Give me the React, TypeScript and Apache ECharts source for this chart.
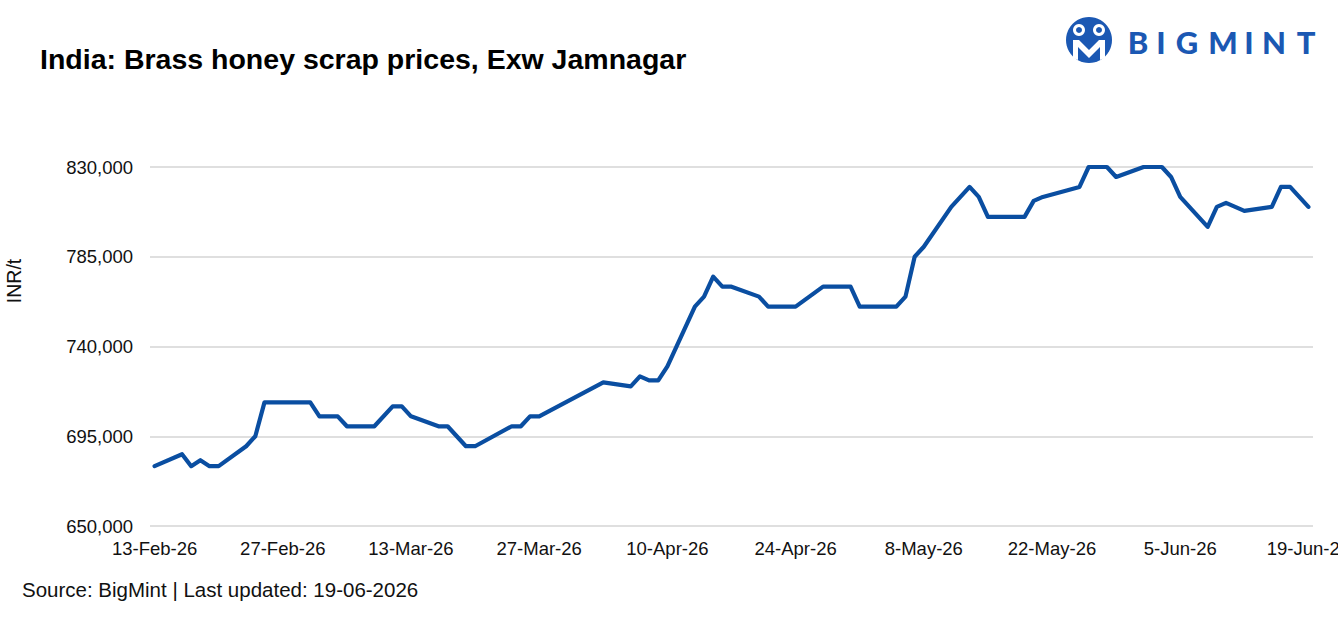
import React, { useEffect, useRef } from "react";
import * as echarts from "echarts";

const startDate = "2026-02-13";
const endDate = "2026-06-19";

const dates = [
  "2026-02-13", "2026-02-16", "2026-02-17", "2026-02-18", "2026-02-19", "2026-02-20",
  "2026-02-23", "2026-02-24", "2026-02-25", "2026-03-02", "2026-03-03", "2026-03-05",
  "2026-03-06", "2026-03-09", "2026-03-11", "2026-03-12", "2026-03-13", "2026-03-16",
  "2026-03-17", "2026-03-19", "2026-03-20", "2026-03-24", "2026-03-25", "2026-03-26",
  "2026-03-27", "2026-04-03", "2026-04-06", "2026-04-07", "2026-04-08", "2026-04-09",
  "2026-04-10", "2026-04-13", "2026-04-14", "2026-04-15", "2026-04-16", "2026-04-17",
  "2026-04-20", "2026-04-21", "2026-04-24", "2026-04-27", "2026-04-30", "2026-05-01",
  "2026-05-05", "2026-05-06", "2026-05-07", "2026-05-08", "2026-05-11", "2026-05-13",
  "2026-05-14", "2026-05-15", "2026-05-19", "2026-05-20", "2026-05-21", "2026-05-25",
  "2026-05-26", "2026-05-28", "2026-05-29", "2026-06-01", "2026-06-03", "2026-06-04",
  "2026-06-05", "2026-06-08", "2026-06-09", "2026-06-10", "2026-06-12", "2026-06-15",
  "2026-06-16", "2026-06-17", "2026-06-19",
];

const prices = [
  680000, 686000, 680000, 683000, 680000, 680000,
  690000, 695000, 712000, 712000, 705000, 705000,
  700000, 700000, 710000, 710000, 705000, 700000,
  700000, 690000, 690000, 700000, 700000, 705000,
  705000, 722000, 720000, 725000, 723000, 723000,
  730000, 760000, 765000, 775000, 770000, 770000,
  765000, 760000, 760000, 770000, 770000, 760000,
  760000, 765000, 785000, 790000, 810000, 820000,
  815000, 805000, 805000, 813000, 815000, 820000,
  830000, 830000, 825000, 830000, 830000, 825000,
  815000, 800000, 810000, 812000, 808000, 810000,
  820000, 820000, 810000,
];

const xTickDates = [
  "2026-02-13", "2026-02-27", "2026-03-13", "2026-03-27", "2026-04-10",
  "2026-04-24", "2026-05-08", "2026-05-22", "2026-06-05", "2026-06-19",
];

const yTicks = [650000, 695000, 740000, 785000, 830000];

const MONTHS = ["Jan", "Feb", "Mar", "Apr", "May", "Jun", "Jul", "Aug", "Sep", "Oct", "Nov", "Dec"];
const DAY = 86400000;
const t0 = Date.parse(startDate + "T00:00:00Z");
const dayIndex = (d: string) => Math.round((Date.parse(d + "T00:00:00Z") - t0) / DAY);
const fmtDate = (idx: number) => {
  const d = new Date(t0 + idx * DAY);
  const yy = String(d.getUTCFullYear()).slice(2);
  return `${d.getUTCDate()}-${MONTHS[d.getUTCMonth()]}-${yy}`;
};

const FONT = "'Liberation Sans', Arial, sans-serif";
const LOGO_BLUE = "#1b58b3";

export default function App() {
  const ref = useRef<HTMLDivElement>(null);

  useEffect(() => {
    if (!ref.current) return;
    const chart = echarts.init(ref.current, null, { renderer: "svg" });
    const seriesData = dates.map((d, i) => [dayIndex(d), prices[i]]);
    const letters = [
      ["B", 1138], ["I", 1161], ["G", 1187], ["M", 1223], ["I", 1249], ["N", 1274], ["T", 1306],
    ] as [string, number][];
    const cx = 1089;
    const cy = 40;

    chart.setOption({
      animation: false,
      backgroundColor: "#ffffff",
      grid: {
        left: 150,
        right: 25,
        top: 167,
        bottom: 101,
        containLabel: false,
        outerBoundsMode: "none",
      },
      xAxis: {
        type: "value",
        min: -0.5,
        max: dayIndex(endDate) + 0.5,
        axisLine: { show: false },
        axisTick: { show: false, customValues: xTickDates.map(dayIndex) },
        splitLine: { show: false },
        axisLabel: {
          customValues: xTickDates.map(dayIndex),
          formatter: (v: number) => fmtDate(Math.round(v)),
          color: "#111111",
          fontSize: 18.5,
          fontFamily: FONT,
          margin: 13,
          showMinLabel: true,
          showMaxLabel: true,
          hideOverlap: false,
        },
      },
      yAxis: {
        type: "value",
        min: yTicks[0],
        max: yTicks[yTicks.length - 1],
        axisLine: { show: false },
        axisTick: { show: false, customValues: yTicks },
        splitLine: { show: true, lineStyle: { color: "#d4d4d4", width: 1.5 } },
        axisLabel: {
          customValues: yTicks,
          formatter: (v: number) => v.toLocaleString("en-US"),
          color: "#111111",
          fontSize: 18.5,
          fontFamily: FONT,
          margin: 17,
        },
      },
      series: [
        {
          type: "line",
          data: seriesData,
          showSymbol: false,
          symbol: "none",
          clip: false,
          lineStyle: { color: "#0a4ea1", width: 4.2, join: "round", cap: "round" },
        },
      ],
      graphic: [
        {
          type: "text",
          left: 40,
          top: 44,
          style: {
            text: "India: Brass honey scrap prices, Exw Jamnagar",
            fontSize: 28.5,
            fontWeight: "bold",
            fontFamily: FONT,
            fill: "#000000",
          },
        },
        {
          type: "text",
          left: 22,
          top: 579,
          style: {
            text: "Source: BigMint | Last updated: 19-06-2026",
            fontSize: 20.5,
            fontFamily: FONT,
            fill: "#111111",
          },
        },
        {
          type: "text",
          x: 14,
          y: 281,
          rotation: Math.PI / 2,
          style: {
            text: "INR/t",
            fontSize: 19.5,
            fontFamily: FONT,
            fill: "#111111",
            align: "center",
            verticalAlign: "middle",
          },
        },
        { type: "circle", shape: { cx, cy, r: 23 }, style: { fill: LOGO_BLUE } },
        { type: "circle", shape: { cx: cx - 10, cy: cy - 10, r: 6 }, style: { fill: "#ffffff" } },
        { type: "circle", shape: { cx: cx + 10, cy: cy - 10, r: 6 }, style: { fill: "#ffffff" } },
        { type: "circle", shape: { cx: cx - 10, cy: cy - 10, r: 3 }, style: { fill: LOGO_BLUE } },
        { type: "circle", shape: { cx: cx + 10, cy: cy - 10, r: 3 }, style: { fill: LOGO_BLUE } },
        {
          type: "polygon",
          shape: {
            points: [
              [cx - 16, cy], [cx - 10, cy], [cx, cy + 10], [cx + 10, cy], [cx + 16, cy], [cx + 16, cy + 18],
              [cx + 11, cy + 20], [cx + 11, cy + 7], [cx, cy + 18], [cx - 11, cy + 7], [cx - 11, cy + 20], [cx - 16, cy + 18],
            ],
          },
          style: { fill: "#ffffff" },
        },
        ...letters.map(([ch, x]) => ({
          type: "text",
          x,
          y: 42,
          style: {
            text: ch,
            fontSize: 31,
            fontWeight: 900,
            fontFamily: "Lato, 'Open Sans', sans-serif",
            fill: LOGO_BLUE,
            align: "center",
            verticalAlign: "middle",
          },
        })),
      ],
    });
    return () => chart.dispose();
  }, []);

  return (
    <div
      ref={ref}
      style={{ position: "absolute", left: 0, top: 0, width: 1338, height: 627, background: "#fff" }}
    />
  );
}
